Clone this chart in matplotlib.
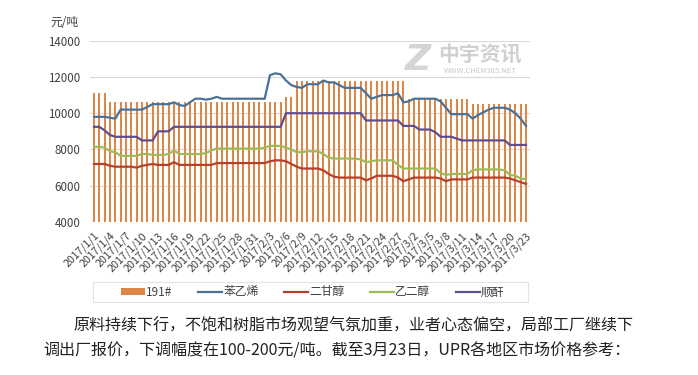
import numpy as np
import pandas as pd
import matplotlib
matplotlib.use("Agg")
import matplotlib.pyplot as plt
from matplotlib.lines import Line2D
from matplotlib.patches import Patch, Rectangle

plt.rcParams['font.family'] = ['Noto Sans CJK SC', 'DejaVu Sans']

# daily categories 2017/1/1 .. 2017/3/23
dates = [f"{d.year}/{d.month}/{d.day}" for d in pd.date_range("2017-01-01", "2017-03-23")]

upr_191 = ([11100] * 3 + [10600] * 33 + [10900] * 2 + [11800] * 21
           + [10800] * 12 + [10500] * 11)

styrene = [9800, 9800, 9800, 9750, 9700, 10200, 10200, 10200, 10200, 10200,
           10350, 10500, 10500, 10500, 10500, 10600, 10450, 10400, 10600, 10800,
           10800, 10750, 10800, 10900, 10800, 10800, 10800, 10800, 10800, 10800,
           10800, 10800, 10800, 12100, 12200, 12150, 11800, 11550, 11450, 11400,
           11600, 11600, 11600, 11800, 11700, 11700, 11550, 11400, 11400, 11400,
           11400, 11100, 10800, 10900, 11000, 11000, 11000, 11100, 10600, 10650,
           10800, 10800, 10800, 10800, 10800, 10650, 10300, 9950, 9950, 9950,
           9950, 9700, 9900, 10050, 10200, 10300, 10300, 10300, 10200, 10000,
           9700, 9300]

deg = [7200, 7200, 7200, 7100, 7050, 7050, 7050, 7050, 7000, 7100,
       7150, 7200, 7150, 7150, 7150, 7300, 7150, 7150, 7150, 7150,
       7150, 7150, 7150, 7250, 7250, 7250, 7250, 7250, 7250, 7250,
       7250, 7250, 7250, 7350, 7400, 7400, 7350, 7200, 7050, 6950,
       6950, 6950, 6950, 6850, 6650, 6500, 6450, 6450, 6450, 6450,
       6450, 6300, 6400, 6550, 6550, 6550, 6550, 6450, 6250, 6350,
       6450, 6450, 6450, 6450, 6450, 6400, 6250, 6350, 6350, 6350,
       6350, 6450, 6450, 6450, 6450, 6450, 6450, 6450, 6400, 6300,
       6200, 6100]

meg = [8150, 8150, 8100, 7900, 7850, 7650, 7650, 7650, 7650, 7750,
       7750, 7700, 7700, 7700, 7750, 7950, 7750, 7750, 7750, 7750,
       7750, 7800, 7950, 8050, 8050, 8050, 8050, 8050, 8050, 8050,
       8050, 8050, 8100, 8200, 8200, 8200, 8100, 8000, 7850, 7850,
       7900, 7900, 7900, 7750, 7550, 7500, 7500, 7500, 7500, 7500,
       7450, 7300, 7350, 7400, 7400, 7400, 7400, 7150, 6950, 6950,
       6950, 6950, 6950, 6950, 6950, 6700, 6600, 6650, 6650, 6650,
       6650, 6850, 6900, 6900, 6900, 6900, 6900, 6850, 6600, 6550,
       6400, 6350]

maleic = ([9250, 9250, 9050, 8800] + [8700] * 5 + [8500] * 3 + [9000] * 3
          + [9250] * 21 + [10000] * 15 + [9600] * 7 + [9300] * 3 + [9100] * 3
          + [8950] + [8700] * 3 + [8600] + [8500] * 9 + [8250] * 4)

names = ["191#", "苯乙烯", "二甘醇", "乙二醇", "顺酐"]
colors = ["#DC8747", "#4A7298", "#B5402E", "#9BBB59", "#5E4E8E"]

text1 = "原料持续下行，不饱和树脂市场观望气氛加重，业者心态偏空，局部工厂继续下"
text2 = "调出厂报价，下调幅度在100-200元/吨。截至3月23日，UPR各地区市场价格参考："

W, H = 698, 375
fig = plt.figure(figsize=(W / 100, H / 100), dpi=100)
ax = fig.add_axes([90 / W, 1 - 222 / H, 440 / W, (222 - 40.7) / H])

x = np.arange(len(dates))
ax.bar(x, upr_191, width=0.42, color=colors[0], zorder=2)
for vals, c in zip([styrene, deg, meg, maleic], colors[1:]):
    ax.plot(x, vals, color=c, lw=1.6, zorder=3, solid_joinstyle="round")

ax.set_xlim(-0.75, len(dates) - 0.25)
ax.set_ylim(4000, 14000)
ax.set_yticks(range(4000, 14001, 2000))
ax.yaxis.grid(True, color="#D9D9D9", lw=0.8, zorder=0)
ax.set_axisbelow(True)
for s in ax.spines.values():
    s.set_visible(False)
ax.tick_params(axis="y", length=0, pad=7, labelsize=8.3, labelcolor="#404040")
ax.set_xticks(x[::3])
ax.set_xticklabels(dates[::3], rotation=45, ha="right", rotation_mode="anchor",
                   fontsize=7.8, color="#404040")
ax.tick_params(axis="x", length=0, pad=6)

fig.text(50 / W, 1 - 23 / H, "元/吨", fontsize=8.5, color="#404040", va="center")

# watermark
fig.text(418 / W, 1 - 60 / H, "Z", fontsize=26, fontweight="bold", style="italic",
         color="#D5D5D5", ha="center", va="center", family="DejaVu Sans")
fig.text(480 / W, 1 - 55 / H, "中宇资讯", fontsize=15, fontweight="bold",
         color="#D0D0D0", ha="center", va="center")
fig.text(480 / W, 1 - 71 / H, "WWW.CHEM365.NET", fontsize=5.5,
         color="#C8C8C8", ha="center", va="center")

# legend
fig.patches.append(Rectangle((93 / W, 1 - 302 / H), 435 / W, 20 / H,
                             transform=fig.transFigure, fill=False,
                             edgecolor="#E3E3E3", lw=0.8))
handles = [Patch(facecolor=colors[0], edgecolor="none")]
handles += [Line2D([], [], color=c, lw=1.6) for c in colors[1:]]
fig.legend(handles, names, loc="center", bbox_to_anchor=(313 / W, 1 - 292 / H),
           ncol=5, frameon=False, fontsize=8.5, handlelength=2.0, handleheight=0.5,
           handletextpad=0.1, columnspacing=2.2, labelcolor="#404040")

fig.text(73 / W, 1 - 326 / H, text1, fontsize=11.55, color="#222222", va="center")
fig.text(43 / W, 1 - 351 / H, text2, fontsize=11.55, color="#222222", va="center")

fig.savefig("out.png", dpi=100)
